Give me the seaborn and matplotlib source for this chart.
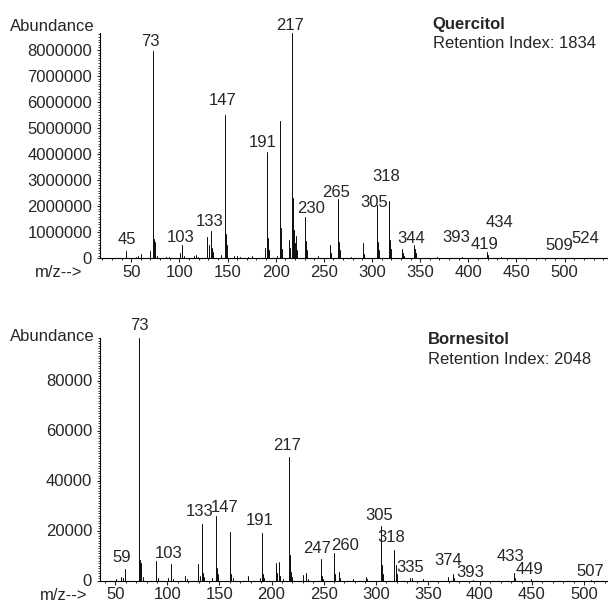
import matplotlib
matplotlib.use("Agg")
import matplotlib.pyplot as plt
import numpy as np
import pandas as pd
import seaborn as sns
from matplotlib.ticker import FuncFormatter, MultipleLocator

# Quercitol spectrum (m/z, abundance)
quercitol_mz = [45, 55, 57, 60, 69, 73, 74, 75, 77, 86, 89, 101, 103, 105, 115, 117, 119,
                129, 131, 133, 134, 135, 143, 147, 148, 149, 157, 160, 163, 171, 175,
                189, 191, 192, 193, 201, 204, 205, 206, 207, 214, 215, 217, 218, 219,
                220, 221, 222, 230, 231, 232, 244, 256, 257, 265, 266, 267, 278, 291,
                292, 305, 306, 307, 318, 319, 320, 331, 332, 333, 344, 345, 346, 367,
                393, 419, 420, 434, 509, 524]
quercitol_abund = [280000, 50000, 80000, 160000, 290000, 7950000, 750000, 620000, 80000,
                   50000, 60000, 200000, 500000, 80000, 80000, 120000, 60000,
                   830000, 500000, 1060000, 400000, 250000, 120000, 5500000, 920000, 500000,
                   100000, 100000, 60000, 60000, 70000,
                   380000, 4100000, 770000, 300000, 100000, 5280000, 1170000, 600000, 350000,
                   700000, 400000, 8650000, 2320000, 1070000,
                   600000, 850000, 300000, 1600000, 650000, 300000, 100000, 510000, 200000,
                   2270000, 610000, 300000, 60000, 570000,
                   150000, 2050000, 640000, 300000, 2200000, 700000, 350000, 340000, 200000,
                   100000, 510000, 350000, 200000, 40000,
                   40000, 250000, 120000, 50000, 20000, 20000]
quercitol_labels = [45, 73, 103, 133, 147, 191, 217, 230, 265, 305, 318, 344, 393, 419,
                    434, 509, 524]

# Bornesitol spectrum (m/z, abundance)
bornesitol_mz = [51, 55, 57, 59, 73, 74, 75, 77, 89, 91, 101, 103, 105, 117, 119, 129, 131,
                 133, 134, 135, 143, 147, 148, 149, 160, 161, 163, 177, 189, 191, 192, 193,
                 204, 205, 207, 208, 211, 217, 218, 219, 220, 230, 233, 235, 247, 248, 249,
                 260, 261, 265, 266, 278, 291, 292, 305, 306, 307, 318, 319, 320, 333, 335,
                 345, 369, 374, 375, 393, 433, 434, 449, 507]
bornesitol_abund = [800, 1500, 1200, 4600, 97000, 8200, 6900, 1500, 7800, 1000, 1200, 6600,
                    800, 1900, 800, 6600, 1800,
                    22600, 2900, 1500, 1000, 25800, 5000, 2500, 19600, 2500, 1000, 1800, 1200,
                    19200, 2500, 1000,
                    6900, 3000, 7400, 2000, 800, 49400, 10200, 3500, 1500, 2200, 2900, 800,
                    8500, 1800, 800,
                    10900, 2500, 3500, 1000, 600, 1500, 800, 22000, 6200, 2500, 12200, 6200,
                    2500, 1000, 1000,
                    600, 1500, 2500, 1200, 400, 2900, 1200, 500, 300]
bornesitol_labels = [59, 73, 103, 133, 147, 191, 217, 247, 260, 305, 318, 335, 374, 393,
                     433, 449, 507]

# label offsets from peak tip, in pixels (dx right, dy up)
quercitol_offsets = {45: (0, 12), 73: (-3, 10), 103: (-2, 8), 133: (-2, 9), 147: (-2, 15),
                     191: (-4, 9), 217: (-2, 8), 230: (6, 8), 265: (-2, 7), 305: (-3, 2),
                     318: (-3, 24), 344: (-3, 7), 393: (-5, 20), 419: (-2, 7), 434: (-2, 34),
                     509: (-14, 12), 524: (-2, 19)}
bornesitol_offsets = {59: (-3, 12), 73: (0, 13), 103: (-2, 11), 133: (-2, 12), 147: (8, 9),
                      191: (-2, 12), 217: (-2, 11), 247: (-3, 11), 260: (11, 8), 305: (-2, 10),
                      318: (-3, 13), 335: (-2, 10), 374: (-5, 14), 393: (-2, 7), 433: (-4, 17),
                      449: (-1, 10), 507: (-1, 8)}

W, H = 608, 602

sns.set_style("ticks")
plt.rcParams["font.family"] = ["Liberation Sans", "DejaVu Sans"]
plt.rcParams["font.size"] = 12


def spectrum_frame(mz, abund):
    mz = np.asarray(mz, dtype=float)
    ab = np.asarray(abund, dtype=float)
    return pd.DataFrame({
        "mz": np.repeat(mz, 2),
        "abundance": np.column_stack([np.zeros_like(ab), ab]).ravel(),
        "peak": np.repeat(mz, 2),
    })


def draw_panel(ax, mz, abund, labels, offsets, xlim, ymajor, yminor):
    df = spectrum_frame(mz, abund)
    sns.lineplot(data=df, x="mz", y="abundance", units="peak", estimator=None,
                 sort=False, color="#111111", linewidth=0.72, ax=ax, legend=False)
    lookup = dict(zip(mz, abund))
    for m in labels:
        dx, dy = offsets[m]
        ax.annotate(str(m), xy=(m, lookup[m]), xytext=(dx * 0.72, dy * 0.72),
                    textcoords="offset points", ha="center", va="center", fontsize=12)
    ax.set_xlim(*xlim)
    ax.set_ylim(0, max(abund))
    ax.set_xlabel("")
    ax.set_ylabel("")
    ax.xaxis.set_major_locator(MultipleLocator(50))
    ax.xaxis.set_minor_locator(MultipleLocator(10))
    ax.yaxis.set_major_locator(MultipleLocator(ymajor))
    ax.yaxis.set_minor_locator(MultipleLocator(yminor))
    ax.yaxis.set_major_formatter(FuncFormatter(lambda v, p: f"{int(round(v))}"))
    ax.xaxis.set_major_formatter(FuncFormatter(lambda v, p: f"{int(round(v))}"))
    ax.tick_params(axis="x", which="major", length=2.9, width=0.8, pad=2, labelsize=12)
    ax.tick_params(axis="x", which="minor", length=1.5, width=0.7)
    ax.tick_params(axis="y", which="major", length=2.2, width=0.8, pad=3.5, labelsize=12)
    ax.tick_params(axis="y", which="minor", length=1.2, width=0.6)
    sns.despine(ax=ax)
    for s in ("left", "bottom"):
        ax.spines[s].set_linewidth(0.8)
        ax.spines[s].set_color("black")


fig = plt.figure(figsize=(W / 100, H / 100), dpi=100)

ax1 = fig.add_axes([100 / W, 1 - 258.3 / H, 508 / W, (258.3 - 33) / H])
draw_panel(ax1, quercitol_mz, quercitol_abund, quercitol_labels, quercitol_offsets,
           (17.6, 545), 1000000, 100000)

ax2 = fig.add_axes([100 / W, 1 - 580.5 / H, 508 / W, (580.5 - 338) / H])
draw_panel(ax2, bornesitol_mz, bornesitol_abund, bornesitol_labels, bornesitol_offsets,
           (35.3, 523), 20000, 1000)


def ftext(px, py, s, **kw):
    fig.text(px / W, 1 - py / H, s, fontsize=12, va="center", **kw)


ftext(95, 26.7, "Abundance", ha="right")
ftext(59, 273, "m/z-->", ha="center")
ftext(432.7, 25, "Quercitol", ha="left", fontweight="bold")
ftext(432.7, 44, "Retention Index: 1834", ha="left")

ftext(95, 336.7, "Abundance", ha="right")
ftext(64, 595, "m/z-->", ha="center")
ftext(427.7, 340, "Bornesitol", ha="left", fontweight="bold")
ftext(427.7, 359.3, "Retention Index: 2048", ha="left")

fig.savefig("out.png", dpi=100)
plt.close(fig)
